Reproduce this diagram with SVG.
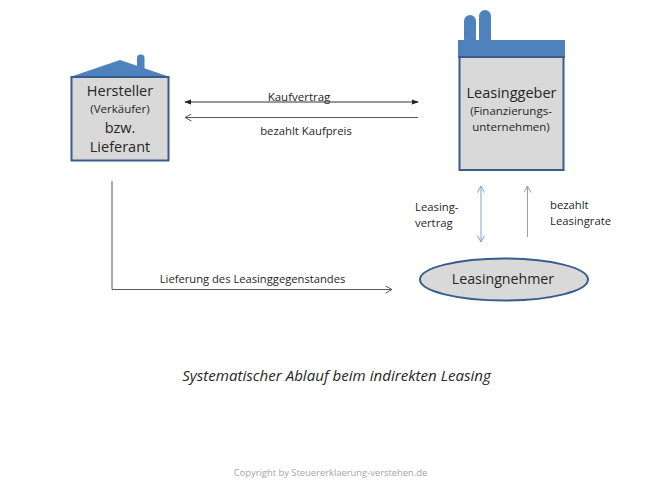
<svg xmlns="http://www.w3.org/2000/svg" width="660" height="495" viewBox="0 0 660 495">
<style>
text{font-family:"Open Sans","Noto Sans","Liberation Sans",sans-serif;fill:#262626;text-anchor:middle}
.t{font-size:14.500px}.s{font-size:11.500px}.l{font-size:11.300px}
.blue{fill:#4f81bd}
.body{fill:#d9d9d9;stroke:#385d8a;stroke-width:2}
.c{fill:none;stroke:#595959;stroke-width:1}
.c2{fill:none;stroke:#7fa3cc;stroke-width:1}
</style>
<defs>
<marker id="solid" viewBox="0 0 8 8" refX="7" refY="4" markerWidth="7" markerHeight="7" markerUnits="userSpaceOnUse" orient="auto-start-reverse"><path d="M0 1L8 4L0 7Z" fill="#222"/></marker>
<marker id="open" viewBox="0 0 8 8" refX="7.500" refY="4" markerWidth="8" markerHeight="8" markerUnits="userSpaceOnUse" orient="auto-start-reverse"><path d="M1 0.500L7.500 4L1 7.500" fill="none" stroke="#595959"/></marker>
<marker id="openb" viewBox="0 0 8 8" refX="7.500" refY="4" markerWidth="8" markerHeight="8" markerUnits="userSpaceOnUse" orient="auto-start-reverse"><path d="M1 0.500L7.500 4L1 7.500" fill="none" stroke="#7fa3cc"/></marker>
</defs>
<rect width="660" height="495" fill="#fff"/>
<g id="connectors">
<path class="c" style="stroke:#333" d="M185 102H418" marker-start="url(#solid)" marker-end="url(#solid)"/>
<path class="c" d="M418 117.500H185" marker-end="url(#open)"/>
<path class="c" d="M112 181V289.500H392" marker-end="url(#open)"/>
<path class="c2" d="M481 186V242" marker-start="url(#openb)" marker-end="url(#openb)"/>
<path class="c2" d="M527.500 237V186" marker-end="url(#openb)"/>
</g>
<g id="hersteller">
<rect class="blue" x="137" y="54.500" width="7.500" height="18" rx="3.500"/>
<path class="blue" d="M70 77L120 60L170 77Z"/>
<rect class="body" x="71.500" y="77" width="97" height="83.500"/>
<text class="t" x="120" y="96">Hersteller</text>
<text class="s" x="120" y="113">(Verkäufer)</text>
<text class="t" x="120" y="133">bzw.</text>
<text class="t" x="120" y="152">Lieferant</text>
</g>
<g id="leasinggeber">
<rect class="blue" x="464" y="15" width="12" height="30" rx="6"/>
<rect class="blue" x="479" y="10" width="12" height="35" rx="6"/>
<rect class="blue" x="458" y="40" width="107" height="18"/>
<rect class="body" x="459.500" y="57" width="104" height="113"/>
<text class="t" x="511.500" y="98">Leasinggeber</text>
<text class="s" x="511" y="115">(Finanzierungs-</text>
<text class="s" x="511" y="131">unternehmen)</text>
</g>
<g id="leasingnehmer">
<ellipse class="body" cx="504" cy="279.500" rx="84" ry="21"/>
<text x="503" y="284" style="font-size:14.200px">Leasingnehmer</text>
</g>
<g id="labels">
<text x="299" y="101" style="font-size:11.500px">Kaufvertrag</text>
<text class="l" x="306" y="135">bezahlt Kaufpreis</text>
<text x="252.500" y="283" style="font-size:11.200px">Lieferung des Leasinggegenstandes</text>
<text class="l" x="415" y="211" style="text-anchor:start">Leasing-</text>
<text class="l" x="415" y="227" style="text-anchor:start">vertrag</text>
<text class="l" x="550" y="209" style="text-anchor:start">bezahlt</text>
<text class="l" x="550" y="225" style="text-anchor:start">Leasingrate</text>
<text x="336.500" y="381" style="font-size:15.100px;font-style:italic">Systematischer Ablauf beim indirekten Leasing</text>
<text x="330.500" y="476" style="font-size:9.400px;fill:#a6a6a6">Copyright by Steuererklaerung-verstehen.de</text>
</g>
</svg>
